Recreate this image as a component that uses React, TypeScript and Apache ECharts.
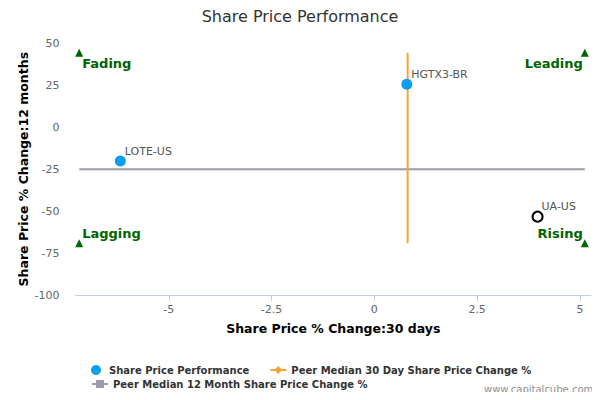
import { useEffect, useRef } from 'react';
import * as echarts from 'echarts';

const FONT = '"DejaVu Sans", Verdana, sans-serif';

// stocks: 30 day change, 12 month change
const stockNames = ['LOTE-US', 'HGTX3-BR', 'UA-US'];
const stock30d = [-6.18, 0.79, 3.97];
const stock12m = [-20.2, 25.6, -53.3];

// peer medians
const peerMedian30d = 0.81;
const peerMedian12m = -25.1;

// quadrant markers
const quadNames = ['Fading', 'Leading', 'Lagging', 'Rising'];
const quadX = [-7.18, 5.12, -7.18, 5.12];
const quadY = [44.4, 44.4, -69.2, -69.2];

const xTicks = [-5, -2.5, 0, 2.5, 5];

export default function App() {
    const chartRef = useRef<HTMLDivElement>(null);

    useEffect(() => {
        if (!chartRef.current) return;
        const chart = echarts.init(chartRef.current, undefined, { renderer: 'svg' });

        const stockData = stockNames.map((name, i) => {
            const hollow = name === 'UA-US';
            return {
                name,
                value: [stock30d[i], stock12m[i]],
                itemStyle: hollow
                    ? { color: '#ffffff', borderColor: '#000000', borderWidth: 2, opacity: 1 }
                    : { color: '#0aa0ef', opacity: 1 },
                symbolSize: hollow ? 10 : 11,
            };
        });

        const quadData = quadNames.map((name, i) => {
            const isLeft = i % 2 === 0;
            const isTop = i < 2;
            return {
                name,
                value: [quadX[i], quadY[i]],
                label: {
                    show: true,
                    formatter: name,
                    position: [isLeft ? 7 : 2, isTop ? 15 : -6],
                    align: isLeft ? 'left' : 'right',
                    verticalAlign: 'middle',
                    color: '#006400',
                    fontWeight: 'bold',
                    fontSize: 13,
                    fontFamily: FONT,
                },
            };
        });

        chart.setOption({
            animation: false,
            title: {
                text: 'Share Price Performance',
                left: 'center',
                top: 3,
                textStyle: { fontFamily: FONT, fontSize: 16, fontWeight: 'normal', color: '#333333' },
            },
            grid: { left: 75.5, right: 9, top: 43.3, bottom: 105 },
            legend: [
                {
                    left: 86,
                    top: 360,
                    itemWidth: 16,
                    itemHeight: 10,
                    itemGap: 20,
                    textStyle: { fontFamily: FONT, fontSize: 10, fontWeight: 'bold', color: '#333333' },
                    data: ['Share Price Performance', 'Peer Median 30 Day Share Price Change %'],
                },
                {
                    left: 86,
                    top: 374,
                    itemWidth: 16,
                    itemHeight: 10,
                    textStyle: { fontFamily: FONT, fontSize: 10, fontWeight: 'bold', color: '#333333' },
                    data: ['Peer Median 12 Month Share Price Change %'],
                },
            ],
            xAxis: {
                type: 'value',
                min: -7.27,
                max: 5.27,
                name: 'Share Price % Change:30 days',
                nameLocation: 'middle',
                nameGap: 27,
                nameMoveOverlap: false,
                nameTextStyle: { fontFamily: FONT, fontSize: 12.5, fontWeight: 'bold', color: '#000000' },
                axisLine: { show: true, onZero: false, lineStyle: { color: '#c0d0e0', width: 1 } },
                axisTick: { show: true, length: 6, customValues: xTicks, lineStyle: { color: '#c0d0e0' } },
                axisLabel: {
                    customValues: xTicks,
                    color: '#666666',
                    fontSize: 11,
                    fontFamily: FONT,
                    margin: 9,
                },
                splitLine: { show: false },
            },
            yAxis: {
                type: 'value',
                min: -100,
                max: 50,
                interval: 25,
                name: 'Share Price % Change:12 months',
                nameLocation: 'middle',
                nameGap: 46,
                nameMoveOverlap: false,
                nameTextStyle: { fontFamily: FONT, fontSize: 12.5, fontWeight: 'bold', color: '#000000' },
                axisLine: { show: false },
                axisTick: { show: false },
                axisLabel: { color: '#666666', fontSize: 11, fontFamily: FONT, margin: 16 },
                splitLine: { show: false },
            },
            series: [
                {
                    name: 'Peer Median 12 Month Share Price Change %',
                    type: 'line',
                    data: [[quadX[0], peerMedian12m], [quadX[1], peerMedian12m]],
                    symbol: 'rect',
                    symbolSize: 8,
                    showSymbol: false,
                    color: '#9a9ba6',
                    lineStyle: { color: '#9a9ba6', width: 2 },
                    z: 2,
                },
                {
                    name: 'Peer Median 30 Day Share Price Change %',
                    type: 'line',
                    data: [[peerMedian30d, quadY[2]], [peerMedian30d, quadY[0]]],
                    symbol: 'diamond',
                    symbolSize: 10,
                    showSymbol: false,
                    color: '#f7a535',
                    lineStyle: { color: '#f7a535', width: 2 },
                    z: 3,
                },
                {
                    name: 'Share Price Performance',
                    type: 'scatter',
                    color: '#0aa0ef',
                    symbol: 'circle',
                    itemStyle: { opacity: 1 },
                    data: stockData,
                    label: {
                        show: true,
                        formatter: '{b}',
                        position: [10, -4],
                        align: 'left',
                        verticalAlign: 'middle',
                        color: '#555555',
                        fontSize: 11,
                        fontFamily: FONT,
                    },
                    z: 4,
                },
                {
                    name: 'Quadrants',
                    type: 'scatter',
                    symbol: 'triangle',
                    symbolSize: 8,
                    itemStyle: { color: '#006400', opacity: 1 },
                    data: quadData,
                    z: 5,
                },
            ],
            graphic: [
                {
                    type: 'text',
                    left: 484,
                    top: 384,
                    z: 100,
                    style: {
                        text: 'www.capitalcube.com',
                        fill: '#909090',
                        fontSize: 10,
                        fontFamily: FONT,
                    },
                },
            ],
        });

        return () => chart.dispose();
    }, []);

    return <div ref={chartRef} style={{ width: 600, height: 400, margin: -8 }} />;
}
